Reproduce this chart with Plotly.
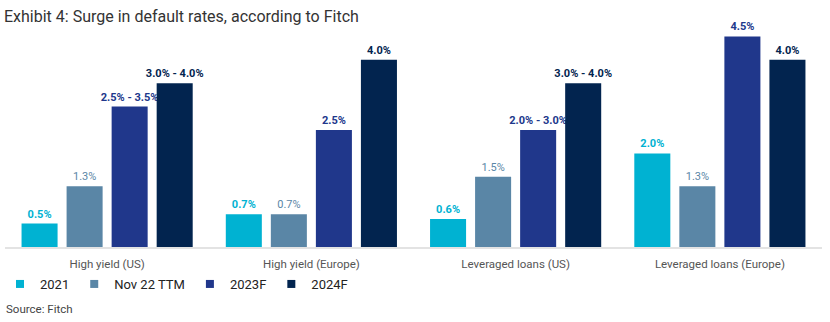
import plotly.graph_objects as go

categories = ["High yield (US)", "High yield (Europe)", "Leveraged loans (US)", "Leveraged loans (Europe)"]
series_names = ["2021", "Nov 22 TTM", "2023F", "2024F"]
values_2021 = [0.5, 0.7, 0.6, 2.0]
values_nov22 = [1.3, 0.7, 1.5, 1.3]
values_2023 = [3.0, 2.5, 2.5, 4.5]
values_2024 = [3.5, 4.0, 3.5, 4.0]
labels_2021 = ["0.5%", "0.7%", "0.6%", "2.0%"]
labels_nov22 = ["1.3%", "0.7%", "1.5%", "1.3%"]
labels_2023 = ["2.5% - 3.5%", "2.5%", "2.0% - 3.0%", "4.5%"]
labels_2024 = ["3.0% - 4.0%", "4.0%", "3.0% - 4.0%", "4.0%"]
colors = ["#00B2D2", "#5A86A6", "#20378B", "#02244F"]

all_values = [values_2021, values_nov22, values_2023, values_2024]
all_labels = [labels_2021, labels_nov22, labels_2023, labels_2024]
weights = ["bold", "normal", "bold", "bold"]

FONT = "Roboto"
fig = go.Figure()
for name, vals, labs, col, w in zip(series_names, all_values, all_labels, colors, weights):
    fig.add_trace(go.Bar(
        name=name, x=categories, y=vals, text=labs,
        textposition="outside", cliponaxis=False, constraintext="none",
        textfont=dict(family=FONT, size=11, color=col, weight=w),
        marker=dict(color=col, line=dict(width=0)),
        hoverinfo="skip", showlegend=False,
    ))
# legend entries with small square markers
for name, col in zip(series_names, colors):
    fig.add_trace(go.Scatter(
        name=name, x=[None], y=[None], mode="markers",
        marker=dict(symbol="square", size=8, color=col),
        showlegend=True, hoverinfo="skip",
    ))

fig.update_layout(
    width=830, height=322,
    margin=dict(l=5, r=8, t=30, b=75),
    paper_bgcolor="white", plot_bgcolor="white",
    barmode="group", bargap=0.118, bargroupgap=0.2,
    font=dict(family=FONT, color="#444444"),
    title=dict(text="Exhibit 4: Surge in default rates, according to Fitch",
               x=4/830, xref="container", xanchor="left",
               y=1-16/322, yref="container", yanchor="middle",
               font=dict(family=FONT, size=16, color="#333333")),
    xaxis=dict(showgrid=False, showline=True, linecolor="#E3E3E3", linewidth=1.5,
               automargin=False,
               ticks="outside", ticklen=5, tickcolor="rgba(0,0,0,0)",
               tickfont=dict(family=FONT, size=11.5, color="#555555")),
    yaxis=dict(range=[0, (247-30)/46.8], visible=False, showgrid=False,
               zeroline=False, automargin=False),
    legend=dict(orientation="h", x=-8/817, xanchor="left", xref="paper",
                y=1-284/322, yref="container", yanchor="middle",
                bgcolor="rgba(0,0,0,0)",
                font=dict(family=FONT, size=13, color="#222222"),
                itemwidth=30, traceorder="normal"),
    annotations=[dict(text="Source: Fitch", xref="paper", yref="paper",
                      x=0, xanchor="left", xshift=-1,
                      y=(247-309)/217, yanchor="middle", showarrow=False,
                      font=dict(family=FONT, size=11.5, color="#444444"))],
)

fig.write_html("out.html")
